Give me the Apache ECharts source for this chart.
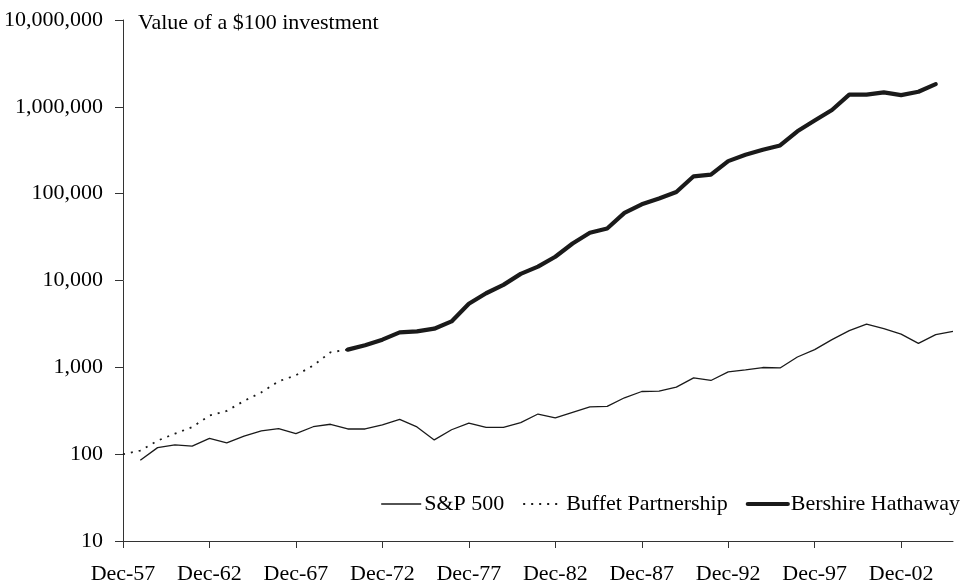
<!DOCTYPE html>
<html>
<head>
<meta charset="utf-8">
<script src="https://cdn.jsdelivr.net/npm/echarts@6/dist/echarts.min.js"></script>
<style>
html,body{margin:0;padding:0;background:#fff;}
#chart{width:970px;height:587px;}
</style>
</head>
<body>
<div id="chart"></div>
<script>
// Year-end categories Dec-57 .. Dec-05
const categories = ['Dec-57','Dec-58','Dec-59','Dec-60','Dec-61','Dec-62','Dec-63','Dec-64','Dec-65','Dec-66',
  'Dec-67','Dec-68','Dec-69','Dec-70','Dec-71','Dec-72','Dec-73','Dec-74','Dec-75','Dec-76',
  'Dec-77','Dec-78','Dec-79','Dec-80','Dec-81','Dec-82','Dec-83','Dec-84','Dec-85','Dec-86',
  'Dec-87','Dec-88','Dec-89','Dec-90','Dec-91','Dec-92','Dec-93','Dec-94','Dec-95','Dec-96',
  'Dec-97','Dec-98','Dec-99','Dec-00','Dec-01','Dec-02','Dec-03','Dec-04','Dec-05'];

const sp500 = [null, 85, 119, 128, 124, 152, 135, 161, 185, 197,
  172, 207, 221, 195, 195, 218, 252, 206, 146, 191,
  228, 204, 204, 231, 290, 261, 303, 351, 355, 446,
  527, 532, 592, 755, 706, 886, 933, 995, 984, 1315,
  1600, 2083, 2643, 3147, 2786, 2416, 1888, 2377, 2594];

const buffettPartnership = [100, 110, 143, 172, 205, 278, 315, 410, 515, 690,
  810, 1050, 1490, 1600, null, null, null, null, null, null,
  null, null, null, null, null, null, null, null, null, null,
  null, null, null, null, null, null, null, null, null, null,
  null, null, null, null, null, null, null, null, null];

const berkshire = [null, null, null, null, null, null, null, null, null, null,
  null, null, null, 1600, 1800, 2083, 2523, 2594, 2786, 3380,
  5394, 7130, 8910, 11915, 14430, 18790, 26700, 35400, 39700, 60000,
  75500, 88000, 104700, 158500, 165400, 237000, 280000, 319800, 359000, 523000,
  695000, 919000, 1380000, 1380000, 1466000, 1365000, 1493000, 1828000, null];

const titleText = 'Value of a $100 investment';
const seriesNames = ['S&P 500', 'Buffet Partnership', 'Bershire Hathaway'];

const FONT = '"Liberation Serif", "Times New Roman", serif';
const FS = 22;
const INK = '#1a1a1a';

const styles = [
  {color: INK, width: 1.3, type: 'solid'},
  {color: INK, width: 1.8, type: [2, 6]},
  {color: INK, width: 4.2, type: 'solid'}
];

const chart = echarts.init(document.getElementById('chart'), null, {renderer: 'canvas'});
chart.setOption({
  animation: false,
  backgroundColor: '#fff',
  title: {
    text: titleText,
    left: 138, top: 12, padding: 0,
    textStyle: {fontFamily: FONT, fontSize: FS, fontWeight: 'normal', color: '#000'}
  },
  legend: {
    right: 10, top: 493, padding: 0,
    itemWidth: 40, itemHeight: 14, itemGap: 18,
    textStyle: {fontFamily: FONT, fontSize: FS, color: '#000', padding: [0,0,0,-2]},
    data: seriesNames.map(function (n, i) {
      return {
        name: n,
        itemStyle: {opacity: 0},
        lineStyle: {width: styles[i].width, type: styles[i].type, color: INK}
      };
    })
  },
  grid: {left: 123, right: 17, top: 20, bottom: 46, containLabel: false},
  xAxis: {
    type: 'category',
    data: categories,
    boundaryGap: false,
    axisLine: {show: true, lineStyle: {color: '#333', width: 1}},
    axisTick: {show: true, interval: 4, length: 7, lineStyle: {color: '#333'}},
    axisLabel: {interval: 4, margin: 22, fontFamily: FONT, fontSize: FS, color: '#000'},
    splitLine: {show: false}
  },
  yAxis: {
    type: 'log',
    logBase: 10,
    min: 10, max: 10000000,
    interval: 1,
    axisLine: {show: true, lineStyle: {color: '#333', width: 1}},
    axisTick: {show: true, length: 8, lineStyle: {color: '#333'}},
    axisLabel: {
      margin: 20, fontFamily: FONT, fontSize: FS, color: '#000',
      formatter: function (v) { return Math.round(v).toLocaleString('en-US'); }
    },
    splitLine: {show: false},
    minorTick: {show: false}
  },
  series: [
    {
      name: seriesNames[0], type: 'line', data: sp500, symbol: 'none',
      connectNulls: false,
      lineStyle: styles[0],
      itemStyle: {color: INK}
    },
    {
      name: seriesNames[1], type: 'line', data: buffettPartnership, symbol: 'none',
      connectNulls: false,
      lineStyle: styles[1],
      itemStyle: {color: INK}
    },
    {
      name: seriesNames[2], type: 'line', data: berkshire, symbol: 'none',
      connectNulls: false,
      lineStyle: Object.assign({join: 'round', cap: 'round'}, styles[2]),
      itemStyle: {color: INK}
    }
  ]
});
</script>
</body>
</html>
